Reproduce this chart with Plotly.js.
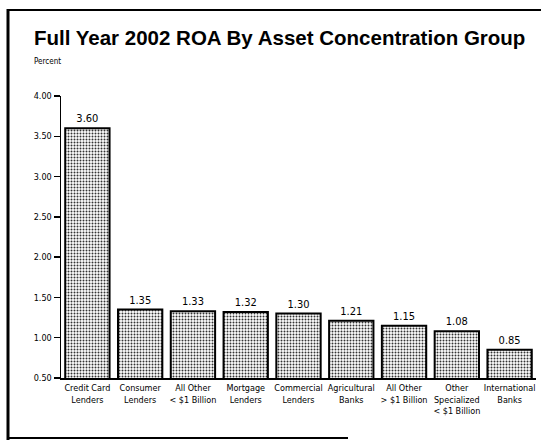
<!DOCTYPE html>
<html>
<head>
<meta charset="utf-8">
<script src="https://cdn.plot.ly/plotly-3.0.1.min.js"></script>
<style>
html,body{margin:0;padding:0;background:#fff;}
#chart{width:541px;height:447px;}
</style>
</head>
<body>
<div id="chart"></div>
<script>
const categories = [
  "Credit Card<br>Lenders",
  "Consumer<br>Lenders",
  "All Other<br>&lt; $1 Billion",
  "Mortgage<br>Lenders",
  "Commercial<br>Lenders",
  "Agricultural<br>Banks",
  "All Other<br>&gt; $1 Billion",
  "Other<br>Specialized<br>&lt; $1 Billion",
  "International<br>Banks"
];
const roaValues = [3.60, 1.35, 1.33, 1.32, 1.30, 1.21, 1.15, 1.08, 0.85];
const yTickValues = [0.5, 1.0, 1.5, 2.0, 2.5, 3.0, 3.5, 4.0];

const narrow = "Liberation Sans Narrow, Arial Narrow, DejaVu Sans Condensed, Liberation Sans, Arial, sans-serif";

// plot area in pixels: x 61..536, y 96..378
const L = 61, R = 536, T = 96, B = 378;
const px = x => (x - L) / (R - L);
const py = y => (B - y) / (B - T);

const trace = {
  type: 'bar',
  x: categories,
  y: roaValues,
  marker: {
    color: '#fff',
    line: {color: '#000', width: 2},
    pattern: {shape: '.', fgcolor: '#333', bgcolor: '#fff', size: 3, solidity: 0.35}
  },
  texttemplate: '%{y:.2f}',
  textposition: 'outside',
  textfont: {family: narrow, size: 11, color: '#000'},
  cliponaxis: false,
  hoverinfo: 'skip'
};

const layout = {
  width: 541, height: 447,
  margin: {l: L, r: 541 - R, t: T, b: 447 - B},
  paper_bgcolor: '#fff', plot_bgcolor: '#fff',
  showlegend: false,
  bargap: 0.16,
  title: {
    text: '<b>Full Year 2002 ROA By Asset Concentration Group</b>',
    font: {family: 'Liberation Sans, Arial, sans-serif', size: 20.5, color: '#000'},
    xref: 'container', yref: 'container',
    x: 34 / 541, xanchor: 'left',
    y: 1 - 38 / 447, yanchor: 'middle'
  },
  xaxis: {
    type: 'category',
    showline: true, linecolor: '#000', linewidth: 2,
    ticks: '', showgrid: false, zeroline: false,
    tickfont: {family: narrow, size: 9, color: '#000'},
    fixedrange: true
  },
  yaxis: {
    range: [0.5, 4.0],
    tickvals: yTickValues,
    tickformat: '.2f',
    showline: true, linecolor: '#000', linewidth: 1.5,
    ticks: 'outside', ticklen: 6, tickwidth: 1.5, tickcolor: '#000',
    showgrid: false, zeroline: false,
    tickfont: {family: narrow, size: 9, color: '#000'},
    fixedrange: true
  },
  annotations: [{
    text: 'Percent',
    xref: 'paper', yref: 'paper',
    x: px(32), y: py(62), xanchor: 'left', yanchor: 'middle',
    showarrow: false,
    font: {family: narrow, size: 8, color: '#000'}
  }],
  shapes: [
    {type: 'line', xref: 'paper', yref: 'paper', x0: px(8), x1: px(8), y0: py(9), y1: py(440), line: {color: '#000', width: 3}},
    {type: 'line', xref: 'paper', yref: 'paper', x0: px(8), x1: px(541), y0: py(10), y1: py(10), line: {color: '#000', width: 2}},
    {type: 'line', xref: 'paper', yref: 'paper', x0: px(8), x1: px(348), y0: py(438), y1: py(438), line: {color: '#000', width: 2}}
  ]
};

Plotly.newPlot('chart', [trace], layout, {displayModeBar: false, staticPlot: true});
</script>
</body>
</html>
